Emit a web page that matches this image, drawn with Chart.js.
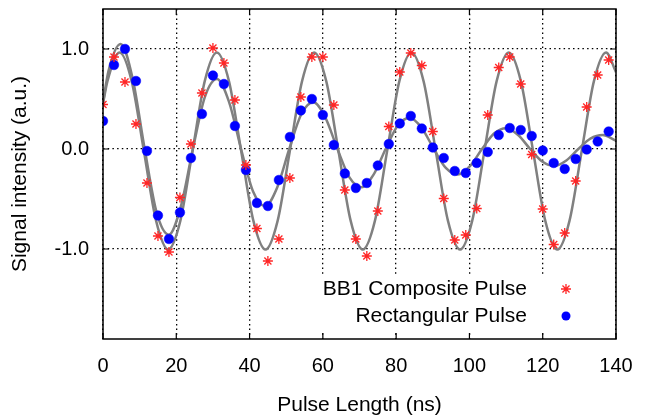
<!DOCTYPE html>
<html><head><meta charset="utf-8">
<script src="https://cdn.jsdelivr.net/npm/chart.js@4.4.0/dist/chart.umd.min.js"></script>
<style>html,body{margin:0;padding:0;background:#fff;}#wrap{width:647px;height:418px;}</style>
</head><body><div id="wrap"><canvas id="c" width="647" height="418"></canvas></div>
<script>
// Measured samples (ns)
const pulseLength = [0,3,6,9,12,15,18,21,24,27,30,33,36,39,42,45,48,51,54,57,60,63,66,69,72,75,78,81,84,87,90,93,96,99,102,105,108,111,114,117,120,123,126,129,132,135,138];
const bb1Signal = [0.445,0.92,0.67,0.25,-0.34,-0.87,-1.03,-0.485,0.05,0.56,1.01,0.86,0.49,-0.16,-0.795,-1.12,-0.90,-0.29,0.52,0.92,0.92,0.44,-0.41,-0.90,-1.07,-0.62,0.225,0.77,0.96,0.835,0.175,-0.495,-0.91,-0.86,-0.595,0.34,0.815,0.92,0.65,-0.055,-0.60,-0.955,-0.84,-0.32,0.42,0.74,0.89];
const rectSignal = [0.28,0.84,1.00,0.68,-0.02,-0.665,-0.90,-0.635,-0.09,0.35,0.735,0.65,0.23,-0.21,-0.54,-0.57,-0.31,0.12,0.385,0.50,0.34,0.04,-0.245,-0.39,-0.34,-0.165,0.05,0.255,0.33,0.205,0.015,-0.09,-0.22,-0.24,-0.14,-0.03,0.14,0.21,0.19,0.13,-0.015,-0.14,-0.20,-0.10,-0.005,0.075,0.175];

// Fitted curves at peaks, troughs, crossings and in between
const bb1FitX = [0,1.20,4.52,7.84,11.16,14.48,17.80,21.12,24.43,27.75,31.07,34.39,37.71,41.03,44.35,47.67,50.99,54.31,57.62,60.94,64.26,67.58,70.90,74.22,77.54,80.86,84.18,87.50,90.81,94.13,97.45,100.77,104.09,107.41,110.73,114.05,117.37,120.69,124.00,127.32,130.64,133.96,137.28,140];
const bb1FitY = [0.453,0.676,0.965,0.676,-0.02,-0.716,-1.005,-0.716,-0.02,0.676,0.965,0.676,-0.02,-0.716,-1.005,-0.716,-0.02,0.676,0.965,0.676,-0.02,-0.716,-1.005,-0.716,-0.02,0.676,0.965,0.676,-0.02,-0.716,-1.005,-0.716,-0.02,0.676,0.965,0.676,-0.02,-0.716,-1.005,-0.716,-0.02,0.676,0.965,0.768];
const rectFitX = [0,1.51,4.80,8.09,11.38,14.66,17.95,21.24,24.53,27.81,31.10,34.39,37.68,40.96,44.25,47.54,50.83,54.11,57.40,60.69,63.98,67.26,70.55,73.84,77.13,80.41,83.70,86.99,90.28,93.56,96.85,100.14,103.43,106.71,110.00,113.29,116.58,119.86,123.15,126.44,129.73,133.01,136.30,140];
const rectFitY = [0.465,0.781,1.050,0.705,0,-0.637,-0.857,-0.576,0,0.521,0.700,0.471,0,-0.425,-0.572,-0.384,0,0.348,0.467,0.314,0,-0.284,-0.382,-0.257,0,0.232,0.312,0.210,0,-0.189,-0.255,-0.171,0,0.155,0.208,0.140,0,-0.126,-0.170,-0.114,0,0.103,0.139,0.083];

const xTicks = [0,20,40,60,80,100,120,140];
const yTicks = [-1,0,1];
const seriesLabels = ['BB1 Composite Pulse','Rectangular Pulse'];
const xTitle = 'Pulse Length (ns)';
const yTitle = 'Signal intensity (a.u.)';

const FONT = '"Liberation Sans", Arial, Helvetica, sans-serif';
const FS = 20, FT = 21;
const RED = '#ff2626', BLUE = '#0000ff', GRAY = '#808080';

const pts = (xs, ys) => xs.map((v,i)=>({x:v,y:ys[i]}));

function drawStar(ctx, x, y, r){
  ctx.beginPath();
  ctx.moveTo(x-r,y); ctx.lineTo(x+r,y);
  ctx.moveTo(x,y-r); ctx.lineTo(x,y+r);
  const d = r*Math.SQRT1_2;
  ctx.moveTo(x-d,y-d); ctx.lineTo(x+d,y+d);
  ctx.moveTo(x-d,y+d); ctx.lineTo(x+d,y-d);
  ctx.stroke();
}

const frame = {
  id:'frame',
  afterDatasetsDraw(chart){
    const {ctx, chartArea:a, scales:{x,y}} = chart;
    ctx.save();
    ctx.setLineDash([]);
    // legend (gnuplot style, opaque: right-aligned text, sample on the right)
    ctx.font = FT+'px '+FONT;
    const tx = a.right-89, mx = a.right-50;
    const rows = [a.bottom-50, a.bottom-23];
    const tw = Math.max(ctx.measureText(seriesLabels[0]).width, ctx.measureText(seriesLabels[1]).width);
    ctx.fillStyle='#fff';
    ctx.fillRect(tx-tw-6, rows[0]-12.5, a.right-(tx-tw-6)-1, (rows[1]+14)-(rows[0]-12.5));
    ctx.fillStyle='#000'; ctx.textAlign='right'; ctx.textBaseline='middle';
    ctx.fillText(seriesLabels[0], tx, rows[0]);
    ctx.fillText(seriesLabels[1], tx, rows[1]);
    ctx.strokeStyle=RED; ctx.lineWidth=1.3;
    drawStar(ctx, mx, rows[0], 5);
    ctx.fillStyle=BLUE;
    ctx.beginPath(); ctx.arc(mx, rows[1], 4.5, 0, Math.PI*2); ctx.fill();
    // border and inward ticks
    ctx.strokeStyle='#000'; ctx.lineWidth=1.5;
    ctx.strokeRect(a.left, a.top, a.right-a.left, a.bottom-a.top);
    const L=6;
    ctx.beginPath();
    xTicks.forEach(v=>{const px=x.getPixelForValue(v); ctx.moveTo(px,a.bottom); ctx.lineTo(px,a.bottom-L); ctx.moveTo(px,a.top); ctx.lineTo(px,a.top+L);});
    yTicks.forEach(v=>{const py=y.getPixelForValue(v); ctx.moveTo(a.left,py); ctx.lineTo(a.left+L,py); ctx.moveTo(a.right,py); ctx.lineTo(a.right-L,py);});
    ctx.lineWidth=1.2;
    ctx.stroke();
    ctx.restore();
  }
};

new Chart(document.getElementById('c'), {
  type:'line',
  data:{datasets:[
    {label:seriesLabels[0], data:pts(pulseLength,bb1Signal), showLine:false, pointStyle:'star', pointRadius:5, pointBorderColor:RED, pointBorderWidth:1.3, borderColor:RED, backgroundColor:RED, order:0},
    {label:seriesLabels[1], data:pts(pulseLength,rectSignal), showLine:false, pointStyle:'circle', pointRadius:4.8, pointBorderColor:BLUE, pointBackgroundColor:BLUE, pointBorderWidth:0.5, borderColor:BLUE, backgroundColor:BLUE, order:1},
    {label:'BB1 fit', data:pts(bb1FitX,bb1FitY), borderColor:GRAY, borderWidth:2.5, pointRadius:0, cubicInterpolationMode:'monotone', fill:false, order:2},
    {label:'Rect fit', data:pts(rectFitX,rectFitY), borderColor:GRAY, borderWidth:2.5, pointRadius:0, cubicInterpolationMode:'monotone', fill:false, order:3}
  ]},
  options:{
    responsive:false, devicePixelRatio:1, animation:false, events:[],
    layout:{padding:{left:0,right:31,top:9,bottom:0}},
    plugins:{legend:{display:false}, tooltip:{enabled:false}},
    scales:{
      x:{type:'linear', min:0, max:140,
        afterBuildTicks(s){ s.ticks = xTicks.map(v=>({value:v})); },
        afterFit(s){ s.height = 79; s.paddingLeft = 0; s.paddingRight = 0; },
        grid:{color:'#000', lineWidth:1.3, drawTicks:false},
        border:{display:false, dash:[1.5,3.2]},
        ticks:{color:'#000', padding:15.5, font:{family:FONT,size:FS}, maxRotation:0, autoSkip:false, callback:v=>String(v)},
        title:{display:true, text:xTitle, color:'#000', font:{family:FONT,size:FT}, padding:{top:0,bottom:0}}
      },
      y:{type:'linear', min:-1.9, max:1.4,
        afterBuildTicks(s){ s.ticks = yTicks.map(v=>({value:v})); },
        afterFit(s){ s.width = 103; s.paddingTop = 0; s.paddingBottom = 0; },
        grid:{color:'#000', lineWidth:1.3, drawTicks:false},
        border:{display:false, dash:[1.5,3.2]},
        ticks:{color:'#000', padding:14, font:{family:FONT,size:FS}, autoSkip:false, callback:v=>Number(v).toFixed(1)},
        title:{display:true, text:yTitle, color:'#000', font:{family:FONT,size:FT}, padding:{top:8,bottom:0}}
      }
    }
  },
  plugins:[frame]
});
</script></body></html>
